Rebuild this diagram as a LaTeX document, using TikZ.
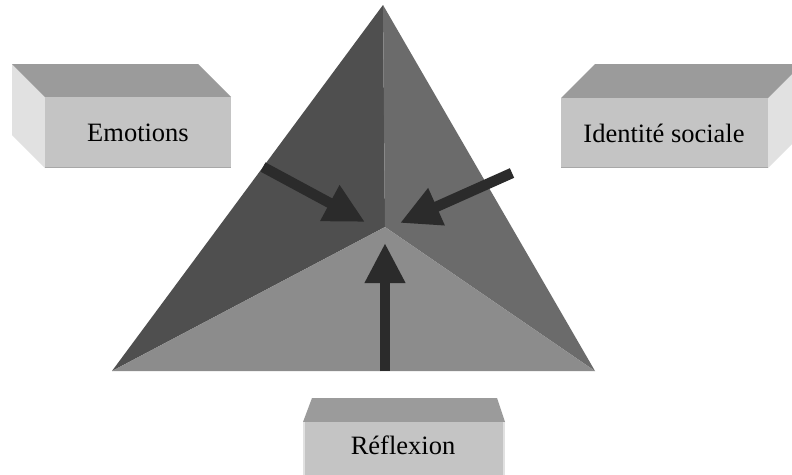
\documentclass[tikz,border=0pt]{standalone}
\usepackage{fontspec}
\setmainfont{Liberation Serif}
\usetikzlibrary{arrows.meta}
\definecolor{faceL}{HTML}{4F4F4F}
\definecolor{faceR}{HTML}{6B6B6B}
\definecolor{faceB}{HTML}{8C8C8C}
\definecolor{arrowc}{HTML}{2B2B2B}
\definecolor{boxtop}{HTML}{9B9B9B}
\definecolor{boxfront}{HTML}{C4C4C4}
\definecolor{boxside}{HTML}{E1E1E1}
\definecolor{boxedge}{HTML}{A8A8A8}
\tikzset{
  lbl/.style={font=\fontsize{26.5}{31}\selectfont, inner sep=0pt, text=black},
  bigarrow/.style={draw=arrowc, line width=10.5pt, -{Triangle[length=40pt,width=38pt]}},
}
\begin{document}
\begin{tikzpicture}[x=1pt,y=-1pt]
\useasboundingbox (0,0) rectangle (792,474);
\clip (0,0) rectangle (792,474);
\fill[white] (0,0) rectangle (792,474);
% pyramid
\coordinate (A) at (383,5);
\coordinate (BL) at (112,371);
\coordinate (BR) at (595,371);
\coordinate (C) at (385,227);
\fill[faceL] (A) -- (C) -- (BL) -- cycle;
\fill[faceR] (A) -- (C) -- (BR) -- cycle;
\fill[faceB] (BL) -- (C) -- (BR) -- cycle;
% arrows
\coordinate (s1) at (263,167);
\coordinate (t1) at (365,222);
\coordinate (s2) at (512,173);
\coordinate (t2) at (400,223);
\coordinate (s3) at (385,371);
\coordinate (t3) at (385,243);
\draw[bigarrow] (s1) -- (t1);
\draw[bigarrow] (s2) -- (t2);
\draw[bigarrow] (s3) -- (t3);
% Emotions box
\fill[boxside] (12,64) -- (45,97) -- (45,168) -- (12,135) -- cycle;
\fill[boxtop] (12,64) -- (198,64) -- (231,97) -- (45,97) -- cycle;
\fill[boxfront] (45,97) rectangle (231,168);
\draw[boxedge, line width=1.2pt] (45,167.4) -- (231,167.4);
\node[lbl] (emo) at (138,132.5) {Emotions};
% Identite box
\fill[boxside] (802,64) -- (768,98) -- (768,168) -- (802,134) -- cycle;
\fill[boxtop] (595,64) -- (802,64) -- (768,98) -- (561,98) -- cycle;
\fill[boxfront] (561,98) rectangle (768,168);
\draw[boxedge, line width=1.2pt] (561,167.4) -- (768,167.4);
\node[lbl] (ids) at (664,133) {Identité sociale};
% Reflexion box
\fill[boxtop] (312,398) -- (497,398) -- (505,422) -- (303,422) -- cycle;
\fill[boxfront] (303,422) rectangle (505,480);
\fill[boxside] (303,422) rectangle (305,480);
\fill[boxside] (503,422) rectangle (505,480);
\node[lbl] (ref) at (403,445) {Réflexion};
\end{tikzpicture}
\end{document}
